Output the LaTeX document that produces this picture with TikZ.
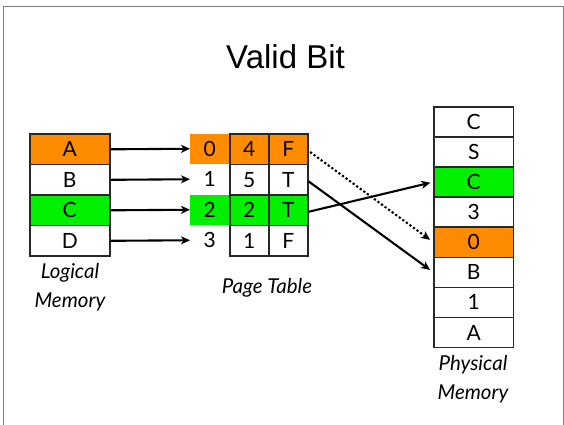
\documentclass[tikz,border=0pt]{standalone}
\usepackage{fontspec}
\setmainfont{Lato}
\newfontfamily\titlefont{Liberation Sans}
\usetikzlibrary{arrows.meta}
\definecolor{pageorange}{RGB}{255,140,0}
\definecolor{pagegreen}{RGB}{0,240,0}
\definecolor{framegray}{RGB}{125,125,125}
\definecolor{cellline}{RGB}{40,40,40}
\begin{document}
\begin{tikzpicture}[x=1pt,y=-1pt,
  cellfont/.style={font=\fontsize{21}{21}\selectfont},
  memcell/.style={cellfont, draw=cellline, line width=1.5pt, inner sep=0pt,
    minimum width=80pt, minimum height=30.5pt, anchor=north west},
  physcell/.style={memcell, minimum width=79.4pt, minimum height=30.1pt},
  idxcell/.style={cellfont, inner sep=0pt, minimum width=39pt,
    minimum height=30.5pt, anchor=north west},
  ptcell/.style={idxcell, draw=cellline, line width=1.5pt},
  caption/.style={font=\fontsize{20.5}{28.5}\selectfont\itshape, align=center},
  link/.style={line width=2.1pt, -{Stealth[length=9pt,width=8pt,inset=2.5pt]}}
]
\useasboundingbox (0,0) rectangle (564,424);
% slide frame
\draw[framegray, line width=1pt] (3.5,6.5) rectangle (563,440);

% title
\node[font=\titlefont\fontsize{33}{33}\selectfont, anchor=base] (title) at (285.5,68.3) {Valid Bit};

% logical memory
\node[memcell, fill=pageorange] (la) at (29,133.3) {A};
\node[memcell] (lb) at (29,163.8) {B};
\node[memcell, fill=pagegreen] (lc) at (29,194.3) {C};
\node[memcell] (ld) at (29,224.8) {D};
\node[caption] (lcap) at (70,287) {Logical\\Memory};

% page table: index column and two bordered columns
\node[idxcell, fill=pageorange] (i0) at (190,133.3) {0};
\node[idxcell] (i1) at (190,163.8) {1};
\node[idxcell, fill=pagegreen] (i2) at (190,194.3) {2};
\node[idxcell] (i3) at (190,224.8) {3};

\node[ptcell, fill=pageorange] (f0) at (229,133.3) {4};
\node[ptcell] (f1) at (229,163.8) {5};
\node[ptcell, fill=pagegreen] (f2) at (229,194.3) {2};
\node[ptcell] (f3) at (229,224.8) {1};

\node[ptcell, fill=pageorange] (v0) at (268,133.3) {F};
\node[ptcell] (v1) at (268,163.8) {T};
\node[ptcell, fill=pagegreen] (v2) at (268,194.3) {T};
\node[ptcell] (v3) at (268,224.8) {F};
\node[caption] (ptcap) at (267,288) {Page Table};

% physical memory
\node[physcell] (p0) at (433.3,106) {C};
\node[physcell] (p1) at (433.3,136.1) {S};
\node[physcell, fill=pagegreen] (p2) at (433.3,166.2) {C};
\node[physcell] (p3) at (433.3,196.3) {3};
\node[physcell, fill=pageorange] (p4) at (433.3,226.4) {0};
\node[physcell] (p5) at (433.3,256.5) {B};
\node[physcell] (p6) at (433.3,286.6) {1};
\node[physcell] (p7) at (433.3,316.7) {A};
\node[caption] (pcap) at (473,379) {Physical\\Memory};

% logical page -> page table entry
\draw[link] (la.east) -- (i0.west);
\draw[link] (lb.east) -- (i1.west);
\draw[link] (lc.east) -- (i2.west);
\draw[link] (ld.east) -- (i3.west);

% page table entry -> frame
\draw[link, dash pattern=on 2.2pt off 2.2pt, shorten <=2pt, shorten >=4pt] ([yshift=-1.5pt]v0.east) -- (p4.west);
\draw[link, shorten >=4pt] ([yshift=-1.5pt]v1.east) -- (p5.west);
\draw[link, shorten >=3pt] ([yshift=-1.5pt]v2.east) -- (p2.west);
\end{tikzpicture}
\end{document}
